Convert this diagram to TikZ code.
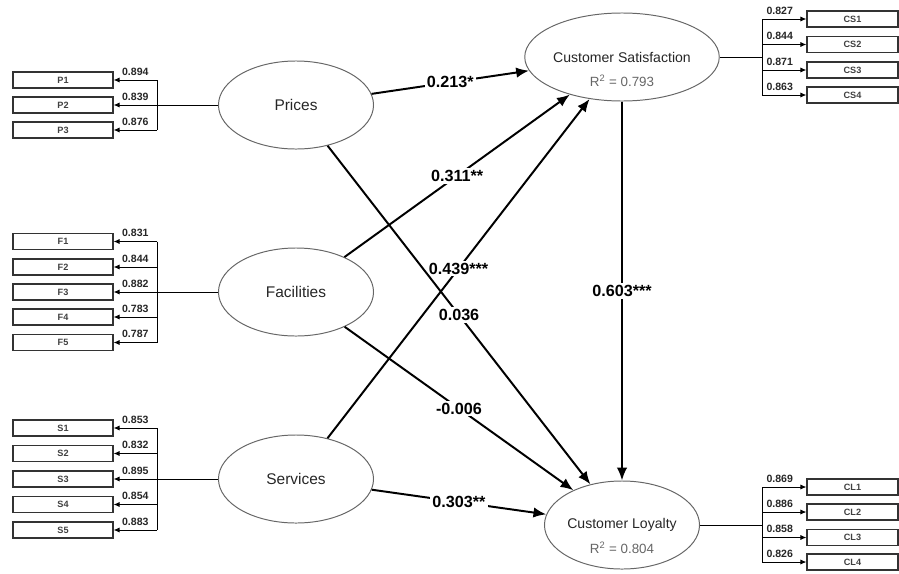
\documentclass[tikz,border=0pt]{standalone}
\usepackage{fontspec}
\setmainfont{Liberation Sans}
\usetikzlibrary{shapes.geometric,arrows.meta}
\begin{document}
\begin{tikzpicture}[x=0.025cm, y=-0.025cm,
  latent/.style={ellipse, draw=black!60, line width=0.7pt, minimum width=3.875cm, minimum height=2.2cm, inner sep=0pt, text=black!85},
  item/.style={draw=black!80, line width=0.8pt, minimum width=2.5cm, minimum height=0.4cm, inner sep=0pt, font=\bfseries\fontsize{6.5}{8}\selectfont, text=black!75},
  itemr/.style={item, minimum width=2.275cm},
  ind/.style={line width=0.7pt, -{Latex[length=0.15cm, width=0.13cm]}},
  effect/.style={line width=1.4pt, -{Latex[length=0.32cm, width=0.26cm]}},
  coef/.style={fill=white, inner sep=1.5pt, font=\bfseries\fontsize{11.5}{13}\selectfont},
  load/.style={above=2pt, inner sep=1pt, font=\bfseries\fontsize{7.5}{9}\selectfont, text=black!85},
  rsq/.style={font=\fontsize{9.5}{11}\selectfont, text=black!60}]
\useasboundingbox (0,0) rectangle (899,573);

% latent variables
\node [latent, font=\fontsize{11}{13}\selectfont] (Prices) at (296,105) {Prices};
\node [latent, font=\fontsize{11}{13}\selectfont] (Facilities) at (296,292) {Facilities};
\node [latent, font=\fontsize{11}{13}\selectfont] (Services) at (296,479) {Services};
\node [latent, font=\fontsize{10}{12}\selectfont] (CS) at (622,57) {Customer Satisfaction};
\node [latent, font=\fontsize{10}{12}\selectfont] (CL) at (622,525) {Customer Loyalty};
\node [rsq] (CSfit) at (622,81) {R\textsuperscript{2} = 0.793};
\node [rsq] (CLfit) at (622,548) {R\textsuperscript{2} = 0.804};

% inner model
\draw [effect] (Prices) -- node [coef] {0.213*} (CS);
\draw [effect] (Facilities) -- node [coef] {0.311**} (CS);
\draw [effect] (Services) -- node [coef] {0.439***} (CS);
\draw [effect] (Prices) -- node [coef] {0.036} (CL);
\draw [effect] (Facilities) -- node [coef] {-0.006} (CL);
\draw [effect] (Services) -- node [coef] {0.303**} (CL);
\draw [effect] (CS) -- node [coef] {0.603***} (CL);

% outer model, left side
\foreach \i/\y/\v in {1/80/0.894, 2/105/0.839, 3/130/0.876} {
  \coordinate (Pbar\i) at (157,\y);
  \node [item] (P\i) at (63,\y) {P\i};
  \draw [ind] (Pbar\i) -- node [load] {\v} (P\i);
}
\draw (Pbar1) -- (Pbar3);
\draw (Prices) -- (Pbar2);

\foreach \i/\y/\v in {1/241.5/0.831, 2/267/0.844, 3/292/0.882, 4/317/0.783, 5/342.5/0.787} {
  \coordinate (Fbar\i) at (157,\y);
  \node [item] (F\i) at (63,\y) {F\i};
  \draw [ind] (Fbar\i) -- node [load] {\v} (F\i);
}
\draw (Fbar1) -- (Fbar5);
\draw (Facilities) -- (Fbar3);

\foreach \i/\y/\v in {1/428/0.853, 2/453.5/0.832, 3/479/0.895, 4/504.5/0.854, 5/530/0.883} {
  \coordinate (Sbar\i) at (157,\y);
  \node [item] (S\i) at (63,\y) {S\i};
  \draw [ind] (Sbar\i) -- node [load] {\v} (S\i);
}
\draw (Sbar1) -- (Sbar5);
\draw (Services) -- (Sbar3);

% outer model, right side
\coordinate (CSbar) at (762,57);
\foreach \i/\y/\v in {1/19/0.827, 2/44.5/0.844, 3/70/0.871, 4/95/0.863} {
  \coordinate (CSbar\i) at (762,\y);
  \node [itemr] (CS\i) at (852.5,\y) {CS\i};
  \draw [ind] (CSbar\i) -- node [load, pos=0.4] {\v} (CS\i);
}
\draw (CSbar1) -- (CSbar4);
\draw (CS) -- (CSbar);

\coordinate (CLbar) at (762,525);
\foreach \i/\y/\v in {1/487/0.869, 2/512/0.886, 3/537.5/0.858, 4/562/0.826} {
  \coordinate (CLbar\i) at (762,\y);
  \node [itemr] (CL\i) at (852.5,\y) {CL\i};
  \draw [ind] (CLbar\i) -- node [load, pos=0.4] {\v} (CL\i);
}
\draw (CLbar1) -- (CLbar4);
\draw (CL) -- (CLbar);

\end{tikzpicture}
\end{document}
